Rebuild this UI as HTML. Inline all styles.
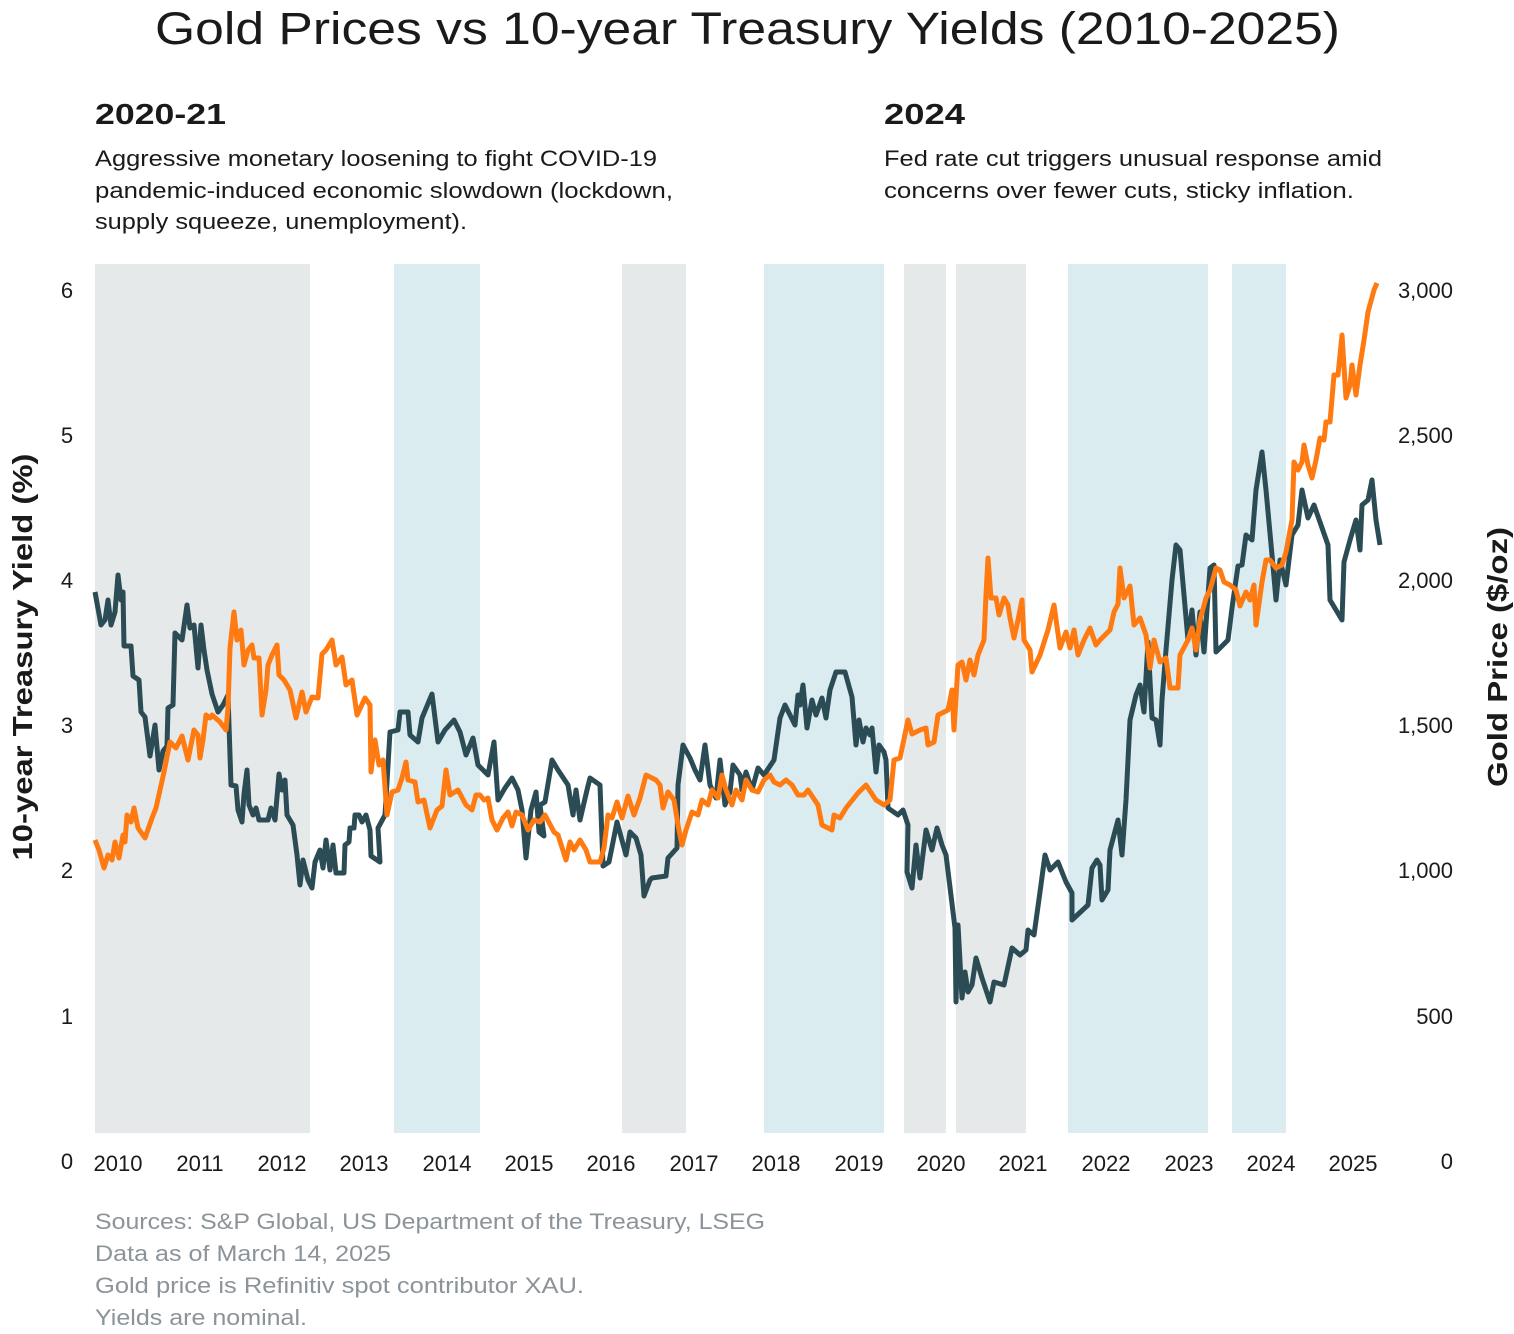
<!DOCTYPE html>
<html><head><meta charset="utf-8"><style>
body{margin:0;background:#fff;width:1514px;height:1334px;overflow:hidden;font-family:"Liberation Sans",sans-serif;}
svg{display:block}
</style></head><body>
<svg width="1514" height="1334" viewBox="0 0 1514 1334" font-family="Liberation Sans, sans-serif">
<text x="155" y="44" textLength="1185" lengthAdjust="spacingAndGlyphs" font-size="45" fill="#1a1a1a">Gold Prices vs 10-year Treasury Yields (2010-2025)</text>
<text x="95" y="124" textLength="131" lengthAdjust="spacingAndGlyphs" font-size="29" font-weight="bold" fill="#1a1a1a">2020-21</text>
<text x="884" y="124" textLength="81" lengthAdjust="spacingAndGlyphs" font-size="29" font-weight="bold" fill="#1a1a1a">2024</text>
<g font-size="22" fill="#1a1a1a">
<text x="95" y="166" textLength="562" lengthAdjust="spacingAndGlyphs">Aggressive monetary loosening to fight COVID-19</text>
<text x="95" y="198" textLength="578" lengthAdjust="spacingAndGlyphs">pandemic-induced economic slowdown (lockdown,</text>
<text x="95" y="229" textLength="372" lengthAdjust="spacingAndGlyphs">supply squeeze, unemployment).</text>
<text x="884" y="166" textLength="498" lengthAdjust="spacingAndGlyphs">Fed rate cut triggers unusual response amid</text>
<text x="884" y="198" textLength="470" lengthAdjust="spacingAndGlyphs">concerns over fewer cuts, sticky inflation.</text>
</g>
<g>
<rect x="95" y="264" width="215" height="869" fill="#e6e9ea"/>
<rect x="394" y="264" width="86" height="869" fill="#dbecf0"/>
<rect x="622" y="264" width="64" height="869" fill="#e6e9ea"/>
<rect x="764" y="264" width="120" height="869" fill="#dbecf0"/>
<rect x="904" y="264" width="42" height="869" fill="#e6e9ea"/>
<rect x="956" y="264" width="70" height="869" fill="#e6e9ea"/>
<rect x="1068" y="264" width="140" height="869" fill="#dbecf0"/>
<rect x="1232" y="264" width="54" height="869" fill="#dbecf0"/>
</g>
<g font-size="22" fill="#1a1a1a" text-anchor="middle">
<text x="67" y="298">6</text><text x="67" y="443">5</text><text x="67" y="588">4</text><text x="67" y="733">3</text><text x="67" y="878">2</text><text x="67" y="1024">1</text><text x="67" y="1169">0</text>
</g>
<g font-size="22" fill="#1a1a1a" text-anchor="end">
<text x="1453" y="298">3,000</text><text x="1453" y="443">2,500</text><text x="1453" y="588">2,000</text><text x="1453" y="733">1,500</text><text x="1453" y="878">1,000</text><text x="1453" y="1024">500</text><text x="1453" y="1169">0</text>
</g>
<g font-size="22" fill="#1a1a1a" text-anchor="middle">
<text x="118" y="1171">2010</text><text x="200" y="1171">2011</text><text x="282" y="1171">2012</text><text x="364" y="1171">2013</text><text x="447" y="1171">2014</text><text x="529" y="1171">2015</text><text x="611" y="1171">2016</text><text x="694" y="1171">2017</text><text x="776" y="1171">2018</text><text x="859" y="1171">2019</text><text x="941" y="1171">2020</text><text x="1023" y="1171">2021</text><text x="1106" y="1171">2022</text><text x="1189" y="1171">2023</text><text x="1271" y="1171">2024</text><text x="1353" y="1171">2025</text>
</g>
<text transform="translate(32,657) rotate(-90)" text-anchor="middle" textLength="407" lengthAdjust="spacingAndGlyphs" font-size="28" font-weight="bold" fill="#1a1a1a">10-year Treasury Yield (%)</text>
<text transform="translate(1507,657) rotate(-90)" text-anchor="middle" textLength="260" lengthAdjust="spacingAndGlyphs" font-size="28" font-weight="bold" fill="#1a1a1a">Gold Price ($/oz)</text>
<polyline fill="none" stroke="#2b4c55" stroke-width="5" stroke-linejoin="round" points="95,592 101,625 105,620 108,600 111,625 115,612 118,575 121,600 123,592 124,646 131,646 133,676 139,680 141,712 145,717 150,756 155,725 159,770 163,751 167,746 168,708 173,705 175,633 182,640 187,605 190,628 194,625 198,668 201,625 204,650 207,670 212,694 218,712 223,705 228,695 231,785 236,786 238,810 242,822 244,794 247,770 249,805 253,815 256,808 259,820 268,820 271,808 275,820 279,774 282,790 285,780 287,815 293,825 297,855 300,885 303,860 308,880 312,888 315,862 320,850 323,868 326,840 330,870 333,845 336,873 344,873 345,845 349,842 350,828 354,828 355,815 359,815 362,822 366,815 370,830 371,856 380,862 378,828 385,815 390,732 398,730 400,712 408,712 410,735 418,742 422,718 432,694 438,742 445,730 454,720 460,732 466,755 473,738 478,765 488,775 494,742 498,800 505,788 512,778 518,790 522,810 526,858 531,810 536,792 539,832 544,836 540,805 545,802 552,760 558,770 568,785 573,815 576,790 580,820 587,790 590,778 600,785 603,866 609,862 617,822 626,855 630,832 636,838 641,855 644,896 650,880 652,878 666,876 668,858 677,848 678,785 683,745 690,758 695,770 700,780 705,745 710,785 716,798 720,760 725,805 730,792 733,765 740,775 742,790 746,772 752,790 758,768 764,775 774,760 780,718 785,705 795,725 798,695 800,705 803,685 807,728 812,700 816,715 822,698 826,718 830,690 836,672 845,672 852,697 856,745 859,720 863,742 866,728 870,735 872,728 876,772 879,745 884,752 886,760 888,808 898,815 903,810 908,825 907,872 912,888 916,845 920,878 926,830 932,850 937,828 942,845 946,855 955,928 956,1002 958,925 962,998 965,972 968,992 972,985 976,958 982,978 990,1002 994,982 1004,985 1012,948 1020,955 1026,950 1028,930 1034,935 1040,892 1045,855 1050,870 1058,862 1066,882 1072,893 1072,920 1088,905 1092,868 1097,860 1100,865 1102,900 1108,890 1110,850 1118,820 1122,855 1126,800 1130,720 1136,695 1140,685 1144,712 1148,642 1152,718 1156,720 1160,745 1162,700 1166,650 1172,580 1176,545 1180,550 1184,595 1188,640 1192,610 1196,655 1200,612 1204,652 1210,568 1214,565 1216,652 1228,640 1232,608 1238,566 1242,565 1246,535 1252,540 1256,490 1262,452 1266,490 1272,555 1276,600 1280,560 1286,585 1292,535 1298,525 1302,490 1308,518 1314,505 1328,545 1330,600 1342,620 1344,562 1350,540 1356,520 1360,550 1362,505 1368,500 1372,480 1376,520 1380,545"/>
<polyline fill="none" stroke="#ff7a10" stroke-width="5" stroke-linejoin="round" points="95,840 99,850 104,868 108,855 112,860 115,842 119,858 123,835 125,842 127,815 131,822 134,808 138,828 145,838 152,818 156,808 164,772 170,742 176,748 182,736 188,760 194,730 198,735 200,758 203,740 206,715 210,718 212,715 220,722 226,730 228,708 230,648 234,612 237,640 241,630 244,665 248,650 252,645 254,658 259,658 262,715 266,690 268,665 272,655 277,645 279,675 284,680 290,690 296,718 302,692 306,712 312,697 318,698 322,654 326,650 332,640 336,665 342,657 346,685 352,680 357,715 365,698 370,705 371,772 375,740 379,765 383,760 387,815 392,792 398,790 402,778 406,762 408,780 415,782 418,802 424,800 430,828 437,810 442,806 446,770 450,795 458,790 466,805 472,810 476,795 480,795 484,800 488,798 492,820 497,830 503,818 508,812 512,826 516,812 522,815 528,830 534,820 540,822 545,815 554,832 558,835 566,860 570,842 574,850 580,840 586,850 590,862 600,862 604,848 608,815 612,818 617,802 622,818 628,796 634,815 640,798 646,775 656,780 660,785 663,808 668,792 674,800 678,825 682,845 686,830 692,812 698,815 702,800 708,805 712,790 718,798 722,775 726,790 732,805 736,790 742,800 746,780 752,790 758,792 764,780 770,775 774,782 780,785 786,780 792,785 798,795 804,795 808,790 818,805 822,825 832,830 834,815 840,818 846,808 858,793 866,785 876,800 884,805 890,800 894,760 900,758 908,720 912,734 920,730 926,728 928,745 934,742 938,715 944,712 948,710 952,690 954,730 958,665 962,662 966,680 970,660 974,675 978,655 984,640 986,595 988,558 991,598 996,598 999,615 1004,598 1008,605 1010,618 1014,638 1018,620 1022,600 1024,640 1030,650 1032,672 1040,655 1048,630 1054,605 1060,648 1066,632 1070,648 1074,630 1078,655 1084,640 1090,628 1096,645 1100,640 1110,630 1114,612 1118,604 1120,568 1124,598 1130,586 1134,625 1140,618 1146,635 1150,668 1154,640 1160,662 1166,658 1170,688 1178,688 1180,655 1188,640 1192,628 1196,650 1200,620 1206,598 1210,590 1216,568 1220,570 1224,582 1230,585 1236,590 1240,606 1246,592 1250,600 1254,585 1256,625 1262,582 1266,560 1270,560 1276,568 1282,565 1286,552 1292,520 1294,462 1298,470 1302,462 1304,445 1308,465 1312,478 1316,460 1320,438 1324,440 1326,422 1330,422 1334,375 1338,375 1342,335 1346,398 1350,385 1352,365 1356,395 1360,365 1364,340 1368,312 1374,290 1377,283"/>
<g font-size="22" fill="#8a949a">
<text x="95" y="1229" textLength="670" lengthAdjust="spacingAndGlyphs">Sources: S&amp;P Global, US Department of the Treasury, LSEG</text>
<text x="95" y="1261" textLength="296" lengthAdjust="spacingAndGlyphs">Data as of March 14, 2025</text>
<text x="95" y="1293" textLength="489" lengthAdjust="spacingAndGlyphs">Gold price is Refinitiv spot contributor XAU.</text>
<text x="95" y="1325" textLength="212" lengthAdjust="spacingAndGlyphs">Yields are nominal.</text>
</g>
</svg>
</body></html>
